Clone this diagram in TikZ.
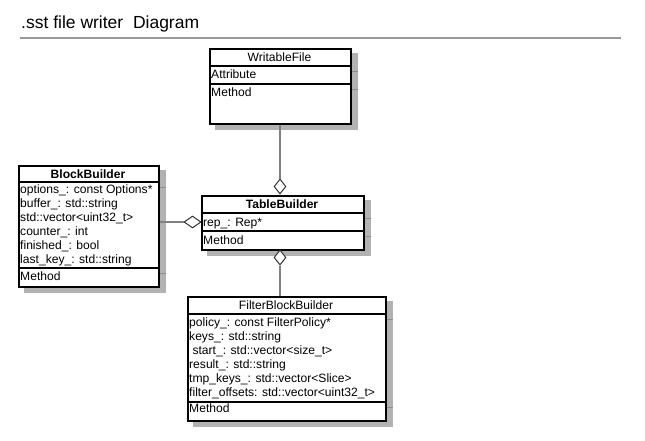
\documentclass[tikz,border=0pt]{standalone}
\usepackage{fontspec}
\setmainfont{Liberation Sans}
\usetikzlibrary{shapes.geometric,backgrounds}
\begin{document}
\begin{tikzpicture}[x=1pt,y=-1pt,
  box/.style={draw=black,line width=2pt,fill=white,inner sep=0pt,anchor=north west},
  sepline/.style={draw=black,line width=2pt},
  shadowbox/.style={fill=black!30},
  shadowsep/.style={draw=black!45,line width=0.8pt},
  conn/.style={draw=black!50,line width=1.6pt},
  agg/.style={diamond,draw=black!80,fill=white,line width=1pt,inner sep=0pt,minimum width=12pt,minimum height=15pt},
  txt/.style={anchor=base west,inner sep=0pt,font=\fontsize{12.1}{14}\selectfont},
  ttl/.style={anchor=base,inner sep=0pt,font=\fontsize{12.1}{14}\selectfont},
  bttl/.style={anchor=base,inner sep=0pt,font=\fontsize{12.1}{14}\selectfont\bfseries}]
\useasboundingbox (0,0) rectangle (645,440);
% title
\node[anchor=base west,inner sep=0pt,font=\fontsize{17.5}{20}\selectfont] (title) at (21,28) {.sst file writer\ \ Diagram};
\coordinate (hl) at (20,38);
\coordinate (hr) at (621,38);
\draw[draw=black!40,line width=2pt] (hl) -- (hr);

% WritableFile
\node[box,minimum width=141pt,minimum height=75pt] (wf) at (209,48) {};
\draw[sepline] (wf.west |- 0,66) -- (wf.east |- 0,66);
\draw[sepline] (wf.west |- 0,84) -- (wf.east |- 0,84);
\node[ttl] (wft) at (279.5,61.5) {WritableFile};
\node[txt] (wfa) at (211,78.5) {Attribute};
\node[txt] (wfm) at (211,96.7) {Method};

% BlockBuilder
\node[box,minimum width=140pt,minimum height=121pt] (bb) at (18,165) {};
\draw[sepline] (bb.west |- 0,182) -- (bb.east |- 0,182);
\draw[sepline] (bb.west |- 0,268) -- (bb.east |- 0,268);
\node[bttl] (bbt) at (88,178.3) {BlockBuilder};
\node[txt] (bb1) at (20,193.3) {options\_: const Options*};
\node[txt] (bb2) at (20,207.3) {buffer\_: std::string};
\node[txt] (bb3) at (20,221.3) {std::vector<uint32\_t>};
\node[txt] (bb4) at (20,235.3) {counter\_: int};
\node[txt] (bb5) at (20,249.3) {finished\_: bool};
\node[txt] (bb6) at (20,263.3) {last\_key\_: std::string};
\node[txt] (bbm) at (20,280.7) {Method};

% TableBuilder
\node[box,minimum width=162pt,minimum height=54pt] (tb) at (201,195) {};
\draw[sepline] (tb.west |- 0,213) -- (tb.east |- 0,213);
\draw[sepline] (tb.west |- 0,231) -- (tb.east |- 0,231);
\node[bttl] (tbt) at (282,208) {TableBuilder};
\node[txt] (tb1) at (203,226.5) {rep\_: Rep*};
\node[txt] (tbm) at (203,244.3) {Method};

% FilterBlockBuilder
\node[box,minimum width=198pt,minimum height=124pt] (fb) at (187,296) {};
\draw[sepline] (fb.west |- 0,314) -- (fb.east |- 0,314);
\draw[sepline] (fb.west |- 0,402) -- (fb.east |- 0,402);
\node[ttl] (fbt) at (286,309) {FilterBlockBuilder};
\node[txt] (fb1) at (189,326.7) {policy\_: const FilterPolicy*};
\node[txt] (fb2) at (189,340.6) {keys\_: std::string};
\node[txt] (fb3) at (189,354.5) {\ start\_: std::vector<size\_t>};
\node[txt] (fb4) at (189,368.4) {result\_: std::string};
\node[txt] (fb5) at (189,382.3) {tmp\_keys\_: std::vector<Slice>};
\node[txt] (fb6) at (189,396.2) {filter\_offsets: std::vector<uint32\_t>};
\node[txt] (fbm) at (189,412) {Method};

% background and shadows
\begin{scope}[on background layer]
  \fill[white] (0,0) rectangle (645,440);
  \foreach \n in {wf,bb,tb,fb} {
    \fill[shadowbox] ([shift={(6,5)}]\n.north west) rectangle ([shift={(6,5)}]\n.south east);
  }
  \draw[shadowsep] (wf.east |- 0,71) -- ++(6,0);
  \draw[shadowsep] (wf.east |- 0,89) -- ++(6,0);
  \draw[shadowsep] (bb.east |- 0,187) -- ++(6,0);
  \draw[shadowsep] (bb.east |- 0,273) -- ++(6,0);
  \draw[shadowsep] (tb.east |- 0,218) -- ++(6,0);
  \draw[shadowsep] (tb.east |- 0,236) -- ++(6,0);
  \draw[shadowsep] (fb.east |- 0,319) -- ++(6,0);
  \draw[shadowsep] (fb.east |- 0,407) -- ++(6,0);
\end{scope}

% aggregation diamonds and connectors
\node[agg] (d1) at (280,186.5) {};
\node[agg] (d3) at (280,257.5) {};
\node[agg,minimum width=17pt,minimum height=12pt] (d2) at (192.5,222) {};
\draw[conn] (d1.north) -- (d1.north |- wf.south);
\draw[conn] (d3.south) -- (d3.south |- fb.north);
\draw[conn] (d2.west) -- (d2.west -| bb.east);
\end{tikzpicture}
\end{document}
